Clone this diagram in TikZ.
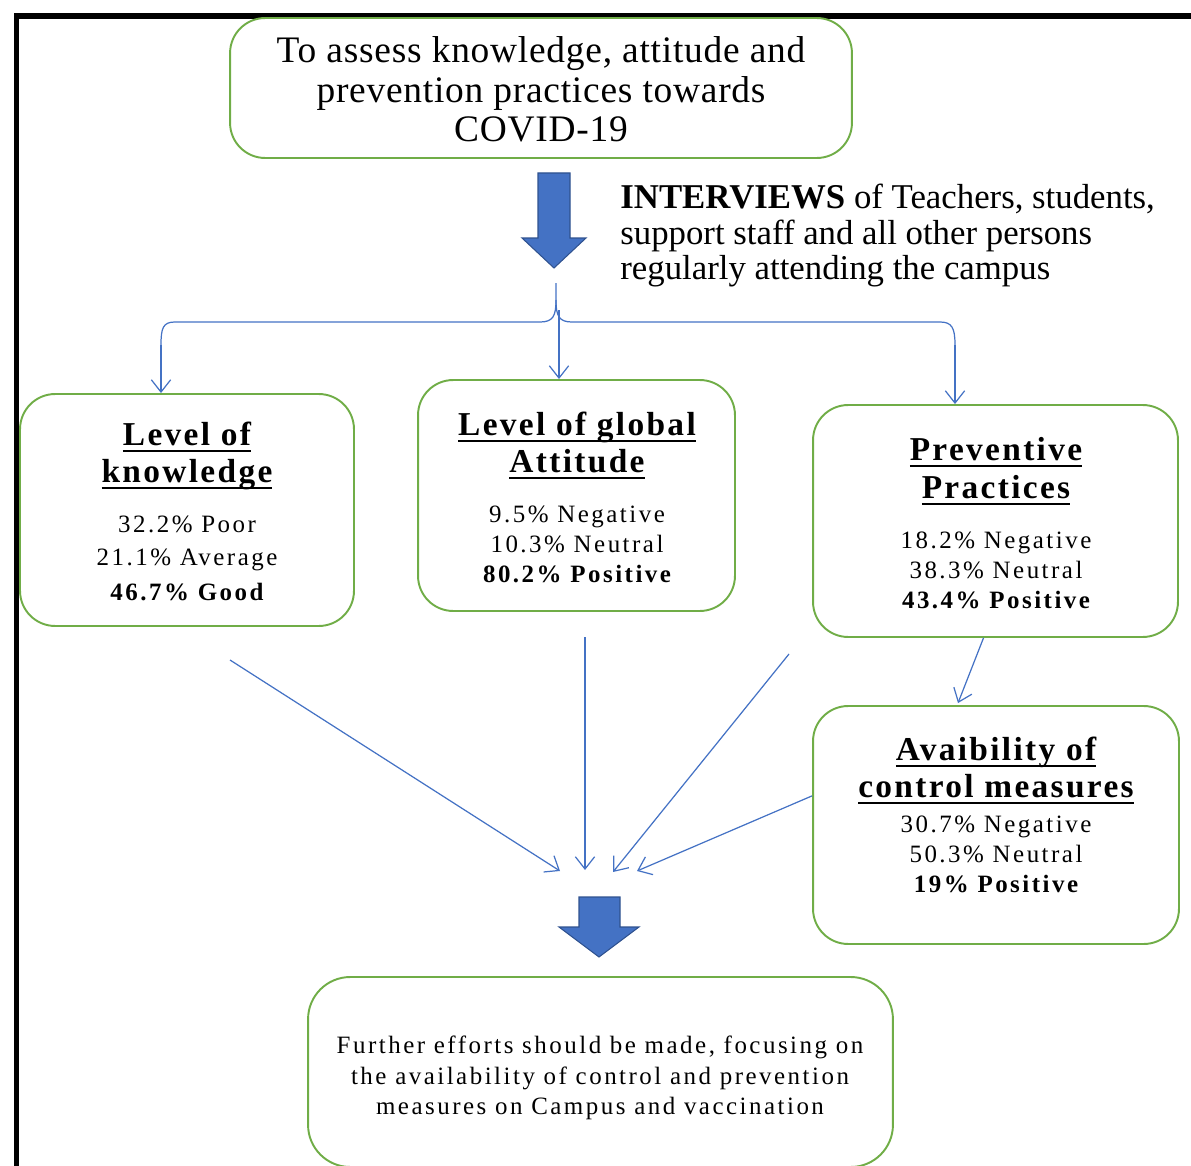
\documentclass[tikz,border=0pt]{standalone}
\usepackage{fontspec}
\setmainfont{Liberation Serif}
\newfontfamily\dataf[LetterSpace=10]{Liberation Serif}
\newfontfamily\titlef[LetterSpace=7]{Liberation Serif}
\newfontfamily\topf[LetterSpace=2]{Liberation Serif}
\usetikzlibrary{arrows.meta}
\definecolor{boxgreen}{RGB}{112,173,71}
\definecolor{arrblue}{RGB}{68,114,196}
\definecolor{arrdark}{RGB}{47,82,143}
\newsavebox\ulbox
\newcommand\myul[1]{\sbox\ulbox{#1}\rlap{\rule[-3.8pt]{\wd\ulbox}{1.2pt}}\usebox\ulbox}
\begin{document}
\begin{tikzpicture}[x=0.02cm,y=-0.02cm,
  box/.style={draw=boxgreen, line width=1.1pt, rounded corners=20pt, inner sep=0pt},
  conn/.style={draw=arrblue, line width=0.7pt, -{Straight Barb[length=7pt,width=11pt]}},
  brace/.style={draw=arrblue, line width=0.7pt},
  txt/.style={anchor=base, inner sep=0pt},
  topt/.style={txt, font=\topf\fontsize{21.3}{24}\selectfont},
  intt/.style={anchor=base west, inner sep=0pt, font=\fontsize{19.8}{22}\selectfont},
  dat/.style={txt, font=\dataf\fontsize{14.2}{17}\selectfont},
  ttl/.style={txt, font=\titlef\bfseries\fontsize{19}{22}\selectfont},
  blockarrow/.style={fill=arrblue, draw=arrdark, line width=0.6pt},
  frame/.style={draw=black, line width=3.4pt}]
\useasboundingbox (0,0) rectangle (1191,1166);
% frame
\draw[frame] (16.5,1175) -- (16.5,16) -- (1200,16);
% boxes
\node[box, minimum width=12.44cm, minimum height=2.8cm] (top) at (541,88) {};
\node[box, minimum width=6.68cm, minimum height=4.64cm] (kn) at (187,510) {};
\node[box, minimum width=6.34cm, minimum height=4.62cm] (att) at (576.5,495.5) {};
\node[box, minimum width=7.3cm, minimum height=4.64cm] (prev) at (995.5,521) {};
\node[box, minimum width=7.32cm, minimum height=4.76cm] (avail) at (996,825) {};
\node[box, minimum width=11.7cm, minimum height=3.8cm, rounded corners=24pt] (fin) at (600.5,1072) {};
% top text
\node[topt] (t1) at (541,63) {To assess knowledge, attitude and};
\node[topt] (t2) at (541,103) {prevention practices towards};
\node[topt] (t3) at (541,142) {COVID-19};
% interviews text
\node[intt] (i1) at (620,209) {\textbf{INTERVIEWS} of Teachers, students,};
\node[intt] (i2) at (620,244) {support staff and all other persons};
\node[intt] (i3) at (620,279) {regularly attending the campus};
% block arrow 1
\draw[blockarrow] (538,173) -- (570,173) -- (570,238) -- (586,238) -- (554,268) -- (522,238) -- (538,238) -- cycle;
% brace connector
\coordinate (bt) at (556,283);
\coordinate (kl) at (161,345);
\coordinate (pr) at (955,345);
\coordinate (mid) at (559,310);
\draw[brace] (bt) -- (556,300) .. controls (556,316) and (553,322) .. (540,322) -- (175,322) .. controls (163,322) and (161,328) .. (kl);
\draw[brace] (556,300) .. controls (556,316) and (559,322) .. (572,322) -- (940,322) .. controls (952,322) and (955,328) .. (pr);
\draw[conn] (kl) -- (kl |- kn.north);
\draw[conn] (pr) -- (pr |- prev.north);
\draw[conn] (mid) -- (mid |- att.north);
% knowledge
\node[ttl] (k1) at (187,445) {\myul{Level of}};
\node[ttl] (k2) at (187,482) {\myul{knowledge}};
\node[dat] (k3) at (187,532) {32.2\% Poor};
\node[dat] (k4) at (187,565) {21.1\% Average};
\node[dat] (k5) at (187,600) {\bfseries 46.7\% Good};
% attitude
\node[ttl] (a1) at (577,435) {\myul{Level of global}};
\node[ttl] (a2) at (577,472) {\myul{Attitude}};
\node[dat] (a3) at (577,522) {9.5\% Negative};
\node[dat] (a4) at (577,552) {10.3\% Neutral};
\node[dat] (a5) at (577,582) {\bfseries 80.2\% Positive};
% preventive
\node[ttl] (p1) at (996,460) {\myul{Preventive}};
\node[ttl] (p2) at (996,498) {\myul{Practices}};
\node[dat] (p3) at (996,548) {18.2\% Negative};
\node[dat] (p4) at (996,578) {38.3\% Neutral};
\node[dat] (p5) at (996,608) {\bfseries 43.4\% Positive};
% availability
\node[ttl] (v1) at (996,760) {\myul{Avaibility of}};
\node[ttl] (v2) at (996,797) {\myul{control measures}};
\node[dat] (v3) at (996,832) {30.7\% Negative};
\node[dat] (v4) at (996,862) {50.3\% Neutral};
\node[dat] (v5) at (996,892) {\bfseries 19\% Positive};
% final
\node[dat] (f1) at (600,1053) {Further efforts should be made, focusing on};
\node[dat] (f2) at (600,1084) {the availability of control and prevention};
\node[dat] (f3) at (600,1114) {measures on Campus and vaccination};
% prev -> avail
\path (prev.south) ++(-12,0) coordinate (ps);
\path (avail.north) ++(-38,-2) coordinate (an);
\draw[conn] (ps) -- (an);
% converging arrows
\coordinate (c1) at (230,660); \coordinate (e1) at (560,871);
\coordinate (c2) at (585,637); \coordinate (e2) at (585,870);
\coordinate (c3) at (789,654); \coordinate (e3) at (613,872);
\coordinate (e4) at (637,871);
\draw[conn] (c1) -- (e1);
\draw[conn] (c2) -- (e2);
\draw[conn] (c3) -- (e3);
\draw[conn] (avail.171) -- (e4);
% block arrow 2
\draw[blockarrow] (579,897) -- (620,897) -- (620,927) -- (639,927) -- (599,957) -- (559,927) -- (579,927) -- cycle;
\end{tikzpicture}
\end{document}
